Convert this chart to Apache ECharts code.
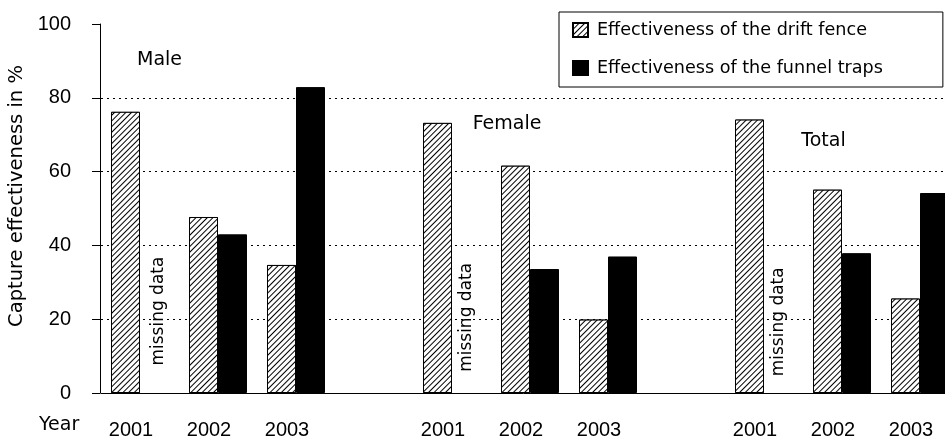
<!DOCTYPE html>
<html>
<head>
<meta charset="utf-8">
<script src="https://cdn.jsdelivr.net/npm/echarts@6/dist/echarts.min.js"></script>
<style>
html,body{margin:0;padding:0;background:#fff;}
#chart{width:945px;height:440px;}
</style>
</head>
<body>
<div id="chart"></div>
<script>
// ---- data ----
var categories = ['2001', '2002', '2003', '', '2001', '2002', '2003', '', '2001', '2002', '2003'];
var driftFence = [76.2, 47.7, 34.7, '-', 73.2, 61.6, 19.9, '-', 74.1, 55.1, 25.6];
var funnelTraps = ['-', 43.0, 82.9, '-', '-', 33.6, 37.0, '-', '-', 37.9, 54.2];
var seriesNames = ['Effectiveness of the drift fence', 'Effectiveness of the funnel traps'];
var groupNames = ['Male', 'Female', 'Total'];
var missingText = 'missing data';
var xAxisTitle = 'Year';
var yAxisTitle = 'Capture effectiveness in %';
var yMin = 0, yMax = 100, yInterval = 20;

var wordFont = 'DejaVu Sans';
var numFont = 'Liberation Sans';

// annotation anchors (category index, value) + pixel nudges from drift-bar centre
var groupLabelPos = [
  { idx: 0, val: 90.3, dx: 34 },
  { idx: 5, val: 72.9, dx: -8.5 },
  { idx: 9, val: 68.2, dx: -4 }
];
var missingPos = [
  { idx: 0, val: 22.2, dx: 33.5 },
  { idx: 4, val: 20.5, dx: 29 },
  { idx: 8, val: 19.3, dx: 29 }
];

var markData = [];
groupLabelPos.forEach(function (p, i) {
  markData.push({
    coord: [p.idx, p.val],
    label: { show: true, formatter: groupNames[i], offset: [p.dx, 0], fontFamily: wordFont, fontSize: 19, color: '#000' }
  });
});
missingPos.forEach(function (p) {
  markData.push({
    coord: [p.idx, p.val],
    label: { show: true, formatter: missingText, rotate: 90, offset: [0, p.dx], fontFamily: wordFont, fontSize: 17, color: '#000' }
  });
});

var hatch = {
  symbol: 'rect',
  symbolSize: 1,
  dashArrayX: [1, 0],
  dashArrayY: [1, 2.6],
  rotation: -Math.PI / 4,
  color: '#000',
  backgroundColor: '#fff'
};

var chart = echarts.init(document.getElementById('chart'));
chart.setOption({
  animation: false,
  backgroundColor: '#fff',
  grid: { left: 101, top: 24, height: 369, width: 858, outerBoundsMode: 'none', containLabel: false },
  legend: {
    orient: 'vertical',
    left: 559,
    top: 12,
    padding: [8, 60, 9, 13],
    itemGap: 18,
    itemWidth: 15,
    itemHeight: 14,
    icon: 'rect',
    borderColor: '#000',
    borderWidth: 1,
    backgroundColor: '#fff',
    textStyle: { fontFamily: wordFont, fontSize: 17.6, color: '#000', lineHeight: 20, padding: [0, 0, 0, 4] },
    data: seriesNames
  },
  graphic: [
    { type: 'text', left: 39, top: 416, style: { text: xAxisTitle, fontFamily: wordFont, fontSize: 19, fill: '#000' } }
  ],
  xAxis: {
    type: 'category',
    data: categories,
    axisLine: { lineStyle: { color: '#000', width: 1 } },
    axisTick: { show: false },
    axisLabel: { interval: 0, margin: 27, fontFamily: numFont, fontSize: 20, color: '#000', padding: [0, 18, 0, 0] },
    splitLine: { show: false }
  },
  yAxis: {
    type: 'value',
    min: yMin,
    max: yMax,
    interval: yInterval,
    offset: 1,
    name: yAxisTitle,
    nameLocation: 'middle',
    nameGap: 72,
    nameRotate: 90,
    nameTextStyle: { fontFamily: wordFont, fontSize: 19.5, color: '#000', padding: [0, 0, 0, 25] },
    axisLine: { show: true, lineStyle: { color: '#000', width: 1 } },
    axisTick: { show: true, inside: false, length: 8, lineStyle: { color: '#000' } },
    axisLabel: { margin: 29, fontFamily: numFont, fontSize: 20, color: '#000' },
    splitLine: { show: true, showMinLine: false, showMaxLine: false, lineStyle: { color: '#000', type: [2, 4], width: 1 } }
  },
  series: [
    {
      name: seriesNames[0],
      type: 'bar',
      data: driftFence,
      barWidth: 29,
      barGap: '0%',
      itemStyle: { color: '#fff', borderColor: '#000', borderWidth: 1, decal: hatch },
      markPoint: {
        symbol: 'rect',
        symbolSize: 1,
        silent: true,
        itemStyle: { color: 'transparent' },
        data: markData
      }
    },
    {
      name: seriesNames[1],
      type: 'bar',
      data: funnelTraps,
      barWidth: 29,
      barGap: '0%',
      itemStyle: { color: '#000', borderColor: '#000', borderWidth: 1 }
    }
  ]
});
</script>
</body>
</html>
